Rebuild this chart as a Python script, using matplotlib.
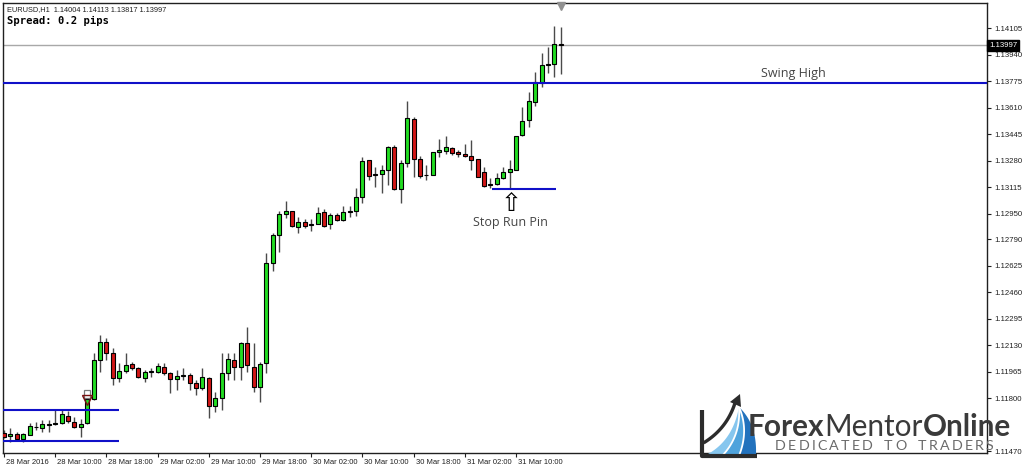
import matplotlib
matplotlib.use('Agg')
import matplotlib.pyplot as plt
from matplotlib.patches import Rectangle, Polygon
from matplotlib.offsetbox import TextArea, HPacker, AnnotationBbox
import matplotlib.transforms as mtransforms
import numpy as np

# ---------------- data ----------------
symbol_info = "EURUSD,H1  1.14004 1.14113 1.13817 1.13997"
spread_text = "Spread: 0.2 pips"

opens = [1.11581, 1.11563, 1.11575, 1.11546, 1.11571, 1.11619, 1.11616, 1.11633, 1.11637, 1.11644,
         1.11691, 1.11653, 1.11619, 1.11644, 1.11795, 1.12038, 1.12148, 1.12079, 1.11924, 1.11971,
         1.12013, 1.11986, 1.11924, 1.11965, 1.11961, 1.11996, 1.11955, 1.11917, 1.11940, 1.11944,
         1.11896, 1.11865, 1.11924, 1.11753, 1.11799, 1.11959, 1.12038, 1.11996, 1.12142, 1.11996,
         1.11871, 1.12017, 1.12644, 1.12816, 1.12945, 1.12965, 1.12864, 1.12897, 1.12878, 1.12886,
         1.12957, 1.12883, 1.12941, 1.12909, 1.12961, 1.12967, 1.13055, 1.13283, 1.13194, 1.13194,
         1.13221, 1.13366, 1.13102, 1.13262, 1.13538, 1.13287, 1.13190, 1.13190, 1.13331, 1.13341,
         1.13356, 1.13335, 1.13320, 1.13308, 1.13287, 1.13206, 1.13132, 1.13132, 1.13169, 1.13210,
         1.13221, 1.13439, 1.13532, 1.13646, 1.13764, 1.13875, 1.13879, 1.14004]
highs = [1.11602, 1.11612, 1.11591, 1.11585, 1.11644, 1.11653, 1.11664, 1.11664, 1.11726, 1.11726,
         1.11722, 1.11685, 1.11670, 1.11813, 1.12079, 1.12193, 1.12173, 1.12110, 1.12017, 1.12079,
         1.12027, 1.11996, 1.11975, 1.11986, 1.12017, 1.12017, 1.11965, 1.11975, 1.11986, 1.11955,
         1.11913, 1.11986, 1.11930, 1.11840, 1.12079, 1.12079, 1.12079, 1.12152, 1.12245, 1.12142,
         1.12027, 1.12706, 1.12827, 1.12965, 1.13030, 1.12968, 1.12926, 1.12914, 1.12914, 1.12992,
         1.12976, 1.12951, 1.12951, 1.12997, 1.12997, 1.13107, 1.13300, 1.13285, 1.13238, 1.13252,
         1.13370, 1.13376, 1.13283, 1.13652, 1.13549, 1.13308, 1.13252, 1.13335, 1.13412, 1.13433,
         1.13366, 1.13345, 1.13381, 1.13408, 1.13290, 1.13238, 1.13169, 1.13204, 1.13238, 1.13283,
         1.13435, 1.13615, 1.13708, 1.13833, 1.13947, 1.13985, 1.14117, 1.14113]
lows = [1.11550, 1.11529, 1.11540, 1.11529, 1.11568, 1.11602, 1.11591, 1.11591, 1.11635, 1.11639,
        1.11644, 1.11617, 1.11560, 1.11642, 1.11789, 1.11965, 1.12038, 1.11882, 1.11902, 1.11955,
        1.11975, 1.11924, 1.11902, 1.11934, 1.11955, 1.11944, 1.11834, 1.11851, 1.11913, 1.11851,
        1.11820, 1.11851, 1.11675, 1.11716, 1.11726, 1.11913, 1.11913, 1.11913, 1.11965, 1.11840,
        1.11778, 1.11955, 1.12594, 1.12712, 1.12920, 1.12868, 1.12827, 1.12858, 1.12843, 1.12883,
        1.12868, 1.12852, 1.12905, 1.12905, 1.12926, 1.12934, 1.13017, 1.13159, 1.13113, 1.13079,
        1.13127, 1.13096, 1.13017, 1.13238, 1.13175, 1.13169, 1.13159, 1.13188, 1.13304, 1.13320,
        1.13314, 1.13304, 1.13304, 1.13221, 1.13177, 1.13117, 1.13107, 1.13127, 1.13163, 1.13102,
        1.13219, 1.13433, 1.13490, 1.13619, 1.13736, 1.13827, 1.13798, 1.13817]
closes = [1.11560, 1.11575, 1.11546, 1.11577, 1.11627, 1.11622, 1.11637, 1.11637, 1.11644, 1.11700,
          1.11660, 1.11619, 1.11637, 1.11795, 1.12038, 1.12148, 1.12079, 1.11924, 1.11969, 1.12006,
          1.11990, 1.11934, 1.11965, 1.11969, 1.12000, 1.11955, 1.11917, 1.11938, 1.11944, 1.11893,
          1.11865, 1.11930, 1.11751, 1.11799, 1.11959, 1.12042, 1.11996, 1.12142, 1.12006, 1.11871,
          1.12013, 1.12644, 1.12816, 1.12945, 1.12965, 1.12872, 1.12895, 1.12874, 1.12886, 1.12955,
          1.12874, 1.12941, 1.12909, 1.12961, 1.12965, 1.13051, 1.13277, 1.13183, 1.13188, 1.13221,
          1.13366, 1.13102, 1.13262, 1.13543, 1.13287, 1.13185, 1.13188, 1.13333, 1.13345, 1.13362,
          1.13329, 1.13320, 1.13308, 1.13283, 1.13179, 1.13123, 1.13126, 1.13169, 1.13210, 1.13225,
          1.13433, 1.13528, 1.13650, 1.13769, 1.13875, 1.13879, 1.14004, 1.13997]

time_labels = ["28 Mar 2016", "28 Mar 10:00", "28 Mar 18:00", "29 Mar 02:00", "29 Mar 10:00",
               "29 Mar 18:00", "30 Mar 02:00", "30 Mar 10:00", "30 Mar 18:00", "31 Mar 02:00",
               "31 Mar 10:00"]
time_label_bars = [0, 8, 16, 24, 32, 40, 48, 56, 64, 72, 80]

price_ticks = [1.14105, 1.13940, 1.13775, 1.13610, 1.13445, 1.13280, 1.13115, 1.12950, 1.12790,
               1.12625, 1.12460, 1.12295, 1.12130, 1.11965, 1.11800, 1.11470]

current_price = 1.13997
swing_high = 1.13762
stop_run_level = 1.13102
stop_run_bars = (76.2, 86.3)
stop_run_bar = 79
range_top = 1.11726
range_bottom = 1.11535
range_bars = (0, 18)
marker_bar = 13

# ---------------- figure ----------------
W, H = 1024, 468
fig = plt.figure(figsize=(W / 100, H / 100), dpi=100)
fig.patch.set_facecolor('white')

ax_l, ax_r, ax_t, ax_b = 3, 987, 3, 453
ax = fig.add_axes([ax_l / W, 1 - ax_b / H, (ax_r - ax_l) / W, (ax_b - ax_t) / H])
ax.set_facecolor('white')
ax.set_xlim(-0.156, 153.6)
ax.set_ylim(1.11459, 1.14261)

bull_c = '#22DD22'
bear_c = '#D21616'
wick_c = '#4a4a4a'
for i, (o, h, l, c) in enumerate(zip(opens, highs, lows, closes)):
    ax.vlines(i, l, h, color=wick_c, lw=1.0, zorder=2)
    fc = bull_c if c >= o else bear_c
    ax.add_patch(Rectangle((i - 0.31, min(o, c)), 0.62, abs(c - o), facecolor=fc,
                           edgecolor='black', lw=0.8, zorder=3))

# horizontal lines
ax.axhline(current_price, color='#a8a8a8', lw=1.0, zorder=1)
ax.axhline(swing_high, color='#1010C8', lw=1.5, zorder=4)
ax.hlines(stop_run_level, stop_run_bars[0], stop_run_bars[1], color='#1010C8', lw=1.5, zorder=4)
ax.hlines([range_top, range_bottom], range_bars[0] - 0.2, range_bars[1], color='#1010C8', lw=1.5, zorder=4)

# annotations
ax.text(123.3, 1.13822, "Swing High", fontsize=9, family='Open Sans', color='#444444',
        ha='center', va='center', zorder=5)
ax.text(stop_run_bar + 0.2, 1.12897, "Stop Run Pin", fontsize=9, family='Open Sans',
        color='#444444', ha='center', va='center', zorder=5)
ax.text(stop_run_bar + 0.2, 1.13012, "\u21E7", fontsize=18, family='DejaVu Sans',
        color='black', ha='center', va='center', zorder=5)

# MT4 arrow object at the breakout bar
ax.add_patch(Rectangle((marker_bar - 0.45, 1.11801), 0.9, 0.0005, facecolor='white',
                       edgecolor='#7a7a7a', lw=0.9, zorder=5))
ax.plot([marker_bar], [1.11792], marker='v', ms=7, mfc='none', mec='#7a1010', mew=1.0, zorder=6)

# axes styling
for s in ax.spines.values():
    s.set_color('#202020')
    s.set_linewidth(1.0)
ax.yaxis.tick_right()
ax.set_yticks(price_ticks)
ax.set_yticklabels([f"{p:.5f}" for p in price_ticks])
ax.tick_params(axis='y', direction='out', length=3, width=0.8, pad=2, labelsize=5.6,
               colors='#202020')
ax.set_xticks(time_label_bars)
ax.set_xticklabels(time_labels)
ax.tick_params(axis='x', direction='out', length=3, width=0.8, pad=1, labelsize=5.5,
               colors='#202020')
offset = mtransforms.ScaledTranslation(2 / 100, 0, fig.dpi_scale_trans)
for lbl in ax.get_xticklabels():
    lbl.set_ha('left')
    lbl.set_family('Liberation Sans')
    lbl.set_transform(lbl.get_transform() + offset)
for lbl in ax.get_yticklabels():
    lbl.set_family('Liberation Sans')

# current price label box
ax.annotate(f"{current_price:.5f}", xy=(1, current_price), xycoords=('axes fraction', 'data'),
            xytext=(1.6, 0), textcoords='offset points', ha='left', va='center',
            fontsize=5.6, family='Liberation Sans', color='white',
            bbox=dict(boxstyle='square,pad=0.25', fc='black', ec='black'), zorder=10,
            annotation_clip=False)

# ---------------- overlay (pixel coords) ----------------
ov = fig.add_axes([0, 0, 1, 1], facecolor='none')
ov.set_xlim(0, W)
ov.set_ylim(H, 0)
ov.axis('off')

ov.text(7, 10, symbol_info, fontsize=5.3, family='Liberation Sans', color='#202020', va='center')
ov.text(7, 20.5, spread_text, fontsize=7.6, family='DejaVu Sans Mono', weight='bold',
        color='black', va='center')
ov.plot([561], [5.5], marker='v', ms=6, color='#909090', clip_on=False)

# logo graphic
t = np.linspace(0, 1, 40)
def curve(x0, y0, x1, y1, cx, cy):
    return ((1 - t) ** 2 * x0 + 2 * (1 - t) * t * cx + t ** 2 * x1,
            (1 - t) ** 2 * y0 + 2 * (1 - t) * t * cy + t ** 2 * y1)
outer = curve(756, 454, 739, 407, 757, 424)
inner = curve(708, 454, 739, 407, 733, 440)
bands = [(0.0, 0.33, '#86c6ee'), (0.33, 0.66, '#4fa3dc'), (0.66, 1.0, '#2272bd')]
for k0, k1, col in bands:
    xa = inner[0] + (outer[0] - inner[0]) * k0
    ya = inner[1] + (outer[1] - inner[1]) * k0
    xb = inner[0] + (outer[0] - inner[0]) * k1
    yb = inner[1] + (outer[1] - inner[1]) * k1
    poly = np.vstack([np.column_stack([xa, ya]), np.column_stack([xb, yb])[::-1]])
    ov.add_patch(Polygon(poly, closed=True, fc=col, ec='none', zorder=20))
for k in [0.33, 0.66]:
    xs = inner[0] + (outer[0] - inner[0]) * k
    ys = inner[1] + (outer[1] - inner[1]) * k
    ov.plot(xs, ys, color='white', lw=1.3, zorder=21)
# L axis
ov.plot([701.5, 701.5, 757], [410, 456, 456], color='#2c2c2c', lw=3, solid_capstyle='butt', zorder=22)
# arrow
sx, sy = curve(705, 442, 735, 403, 727, 428)
ov.plot(sx, sy, color='#2c2c2c', lw=2.4, zorder=23)
ov.add_patch(Polygon([[740, 394], [730, 402], [741, 407]], closed=True, fc='#2c2c2c', ec='none', zorder=23))

# logo text
logo_col = '#3a3a3a'
pieces = [("Forex", 'bold'), ("Mentor", 'normal'), ("Online", 'bold')]
tas = [TextArea(s, textprops=dict(fontsize=21.4, family='Lato', weight=w, color=logo_col))
       for s, w in pieces]
box = HPacker(children=tas, align='baseline', pad=0, sep=0)
ab = AnnotationBbox(box, (748, 427), xycoords='data', box_alignment=(0, 0.5), frameon=False,
                    pad=0, zorder=30)
ov.add_artist(ab)

letters = []
for ch in "DEDICATED TO TRADERS":
    letters.append(TextArea(ch if ch != ' ' else '\u2002',
                            textprops=dict(fontsize=10.3, family='Lato', color='#6a6a6a')))
box2 = HPacker(children=letters, align='baseline', pad=0, sep=1.6)
ab2 = AnnotationBbox(box2, (775, 446), xycoords='data', box_alignment=(0, 0.5), frameon=False,
                     pad=0, zorder=30)
ov.add_artist(ab2)

fig.savefig('out.png', dpi=100, facecolor='white')
